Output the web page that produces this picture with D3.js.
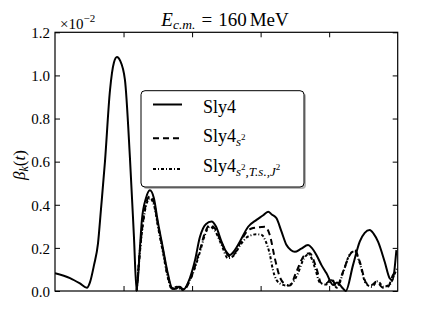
<!DOCTYPE html>
<html>
<head>
    <title>beta_k(t) D3.js</title>
    <script src="https://d3js.org/d3.v7.min.js"></script>
    <style>
        body { margin: 0; background: #fff; }
        svg text { fill: #000; }
        .axis path, .axis line { stroke: #000; }
    </style>
</head>
<body>
<div id="chart-container"></div>

<script>
    // time axis (arbitrary units, no tick labels shown) and beta_k values (x 10^-2)
    const tSly4 = [0, 0.219, 0.364, 0.466, 0.51, 0.569, 0.627, 0.671, 0.729, 0.802, 0.86, 0.904, 0.948, 1.02,
        1.093, 1.152, 1.191, 1.239, 1.268, 1.327, 1.385, 1.443, 1.501, 1.574, 1.647, 1.706, 1.764, 1.808,
        1.866, 1.968, 2.041, 2.114, 2.201, 2.284, 2.347, 2.43, 2.493, 2.551, 2.624, 2.697, 2.818, 2.94,
        3.032, 3.11, 3.163, 3.232, 3.305, 3.378, 3.44, 3.499, 3.586, 3.692, 3.746, 3.814, 3.888, 3.961,
        4.057, 4.115, 4.179, 4.242, 4.348, 4.446, 4.519, 4.592, 4.65, 4.713, 4.81, 4.883, 4.92, 4.981];
    const ySly4 = [0.083, 0.06, 0.035, 0.015, 0.04, 0.12, 0.22, 0.38, 0.6, 0.93, 1.06, 1.085, 1.07, 0.98,
        0.62, 0.25, 0.0, 0.2, 0.33, 0.43, 0.467, 0.43, 0.32, 0.2, 0.08, 0.015, 0.01, 0.02,
        0.005, 0.06, 0.14, 0.25, 0.31, 0.322, 0.3, 0.229, 0.185, 0.167, 0.19, 0.229, 0.298, 0.33,
        0.35, 0.368, 0.355, 0.337, 0.275, 0.213, 0.19, 0.182, 0.195, 0.213, 0.2, 0.167, 0.12, 0.082,
        0.028, 0.04, 0.02, 0.0, 0.12, 0.229, 0.27, 0.283, 0.265, 0.229, 0.136, 0.059, 0.05, 0.19];

    const tS2 = [1.191, 1.239, 1.283, 1.341, 1.385, 1.443, 1.501, 1.574, 1.647, 1.706, 1.764, 1.822, 1.88,
        1.968, 2.114, 2.187, 2.259, 2.332, 2.434, 2.551, 2.624, 2.697, 2.784, 2.867, 2.959, 3.061, 3.134,
        3.207, 3.28, 3.367, 3.426, 3.523, 3.644, 3.717, 3.814, 3.888, 3.961, 4.034, 4.107, 4.203, 4.3,
        4.373, 4.446, 4.544, 4.617, 4.69, 4.786, 4.859, 4.931, 4.996];
    const yS2 = [0.0, 0.19, 0.32, 0.42, 0.44, 0.41, 0.31, 0.19, 0.07, 0.01, 0.01, 0.02, 0.005,
        0.05, 0.19, 0.27, 0.306, 0.29, 0.22, 0.16, 0.175, 0.22, 0.27, 0.29, 0.295, 0.298, 0.26,
        0.152, 0.065, 0.03, 0.025, 0.09, 0.167, 0.175, 0.105, 0.036, 0.036, 0.059, 0.02, 0.09, 0.167,
        0.19, 0.136, 0.036, 0.028, 0.043, 0.015, 0.02, 0.074, 0.1];

    const tTSJ = [1.191, 1.239, 1.283, 1.341, 1.385, 1.443, 1.501, 1.574, 1.647, 1.706, 1.778, 1.851,
        1.968, 2.114, 2.187, 2.259, 2.332, 2.434, 2.522, 2.609, 2.697, 2.813, 2.94, 3.017, 3.076, 3.134,
        3.178, 3.232, 3.305, 3.382, 3.455, 3.542, 3.63, 3.703, 3.79, 3.863, 3.95, 4.038, 4.111, 4.213,
        4.3, 4.373, 4.446, 4.534, 4.621, 4.708, 4.796, 4.883, 4.956, 4.996];
    const yTSJ = [0.0, 0.18, 0.31, 0.41, 0.43, 0.4, 0.3, 0.18, 0.06, 0.01, 0.02, 0.005,
        0.05, 0.18, 0.26, 0.298, 0.28, 0.21, 0.152, 0.165, 0.21, 0.252, 0.263, 0.26, 0.229, 0.17,
        0.1, 0.051, 0.031, 0.025, 0.035, 0.08, 0.15, 0.17, 0.11, 0.04, 0.03, 0.05, 0.015, 0.095,
        0.17, 0.185, 0.13, 0.035, 0.02, 0.045, 0.02, 0.03, 0.08, 0.11];

    const yTicks = [0.0, 0.2, 0.4, 0.6, 0.8, 1.0, 1.2];
    const xTicks = [1, 2, 3, 4];

    const serif = "'Liberation Serif', 'DejaVu Serif', serif";
    const width = 442;
    const height = 324;
    const margin = { top: 32.3, right: 44.3, bottom: 33, left: 55 };
    const chartWidth = width - margin.left - margin.right;
    const chartHeight = height - margin.top - margin.bottom;

    const svg = d3.select('#chart-container')
        .append('svg')
        .attr('width', width)
        .attr('height', height)
        .attr('font-family', serif);

    const chart = svg.append('g')
        .attr('transform', `translate(${margin.left},${margin.top})`);

    const xScale = d3.scaleLinear().domain([0, 5]).range([0, chartWidth]);
    const yScale = d3.scaleLinear().domain([0, 1.2]).range([chartHeight, 0]);

    // curves
    const series = [
        { t: tSly4, y: ySly4, dash: null },
        { t: tS2, y: yS2, dash: '6,4' },
        { t: tTSJ, y: yTSJ, dash: '3,2,1,2' }
    ];

    const line = d3.line()
        .x(d => xScale(d[0]))
        .y(d => yScale(d[1]))
        .curve(d3.curveMonotoneX);

    chart.append('defs').append('clipPath').attr('id', 'clip')
        .append('rect').attr('width', chartWidth).attr('height', chartHeight + 1);

    series.slice().reverse().forEach(s => {
        chart.append('path')
            .attr('clip-path', 'url(#clip)')
            .attr('d', line(s.t.map((t, i) => [t, s.y[i]])))
            .attr('fill', 'none')
            .attr('stroke', '#000')
            .attr('stroke-width', 2)
            .attr('stroke-dasharray', s.dash);
    });

    // axes, ticks pointing inward on all four sides
    const tickLen = 5;
    chart.append('g').attr('class', 'axis')
        .attr('transform', `translate(0,${chartHeight})`)
        .call(d3.axisBottom(xScale).tickValues(xTicks).tickSize(-tickLen).tickFormat(''));
    chart.append('g').attr('class', 'axis')
        .call(d3.axisTop(xScale).tickValues(xTicks).tickSize(-tickLen).tickFormat(''));
    const yAxis = chart.append('g').attr('class', 'axis')
        .call(d3.axisLeft(yScale).tickValues(yTicks).tickSize(-tickLen).tickPadding(5)
            .tickFormat(d3.format('.1f')));
    yAxis.attr('font-family', serif).attr('font-size', 15);
    yAxis.selectAll('text').attr('dy', '0.35em');
    chart.append('g').attr('class', 'axis')
        .attr('transform', `translate(${chartWidth},0)`)
        .call(d3.axisRight(yScale).tickValues(yTicks).tickSize(-tickLen).tickFormat(''));
    chart.selectAll('.axis .domain').remove();

    chart.append('rect')
        .attr('width', chartWidth).attr('height', chartHeight)
        .attr('fill', 'none').attr('stroke', '#000').attr('stroke-width', 1.2);

    // offset text
    const off = svg.append('text').attr('x', 60).attr('y', 28.5).attr('font-size', 15);
    off.append('tspan').text('×10');
    off.append('tspan').attr('dy', -7).attr('font-size', 11).text('−2');

    // title
    const title = svg.append('text').attr('x', 225).attr('y', 25.5)
        .attr('text-anchor', 'middle').attr('font-size', 19);
    title.append('tspan').attr('font-style', 'italic').text('E');
    title.append('tspan').attr('dy', 3).attr('font-style', 'italic').attr('font-size', 13.5).text('c.m.');
    title.append('tspan').attr('dy', -3).attr('dx', 6).text('=');
    title.append('tspan').attr('dx', 6).text('160');
    title.append('tspan').attr('dx', 3).text('MeV');

    // y label
    const yl = svg.append('text')
        .attr('transform', 'translate(25,165) rotate(-90)')
        .attr('text-anchor', 'middle').attr('font-size', 17);
    yl.append('tspan').attr('font-style', 'italic').text('β');
    yl.append('tspan').attr('dy', 3).attr('font-style', 'italic').attr('font-size', 12).text('k');
    yl.append('tspan').attr('dy', -3).text('(');
    yl.append('tspan').attr('font-style', 'italic').text('t');
    yl.append('tspan').text(')');

    // legend
    const lg = svg.append('g');
    lg.append('rect').attr('x', 143).attr('y', 92.7).attr('width', 163).attr('height', 96.3)
        .attr('rx', 4).attr('fill', '#888').attr('opacity', 0.6);
    lg.append('rect').attr('x', 141).attr('y', 90.7).attr('width', 163).attr('height', 96.3)
        .attr('rx', 4).attr('fill', '#fff').attr('stroke', '#000').attr('stroke-width', 1);

    const legendRows = [
        { y: 104.5, base: 113.3, dash: null },
        { y: 138.3, base: 141.7, dash: '6,4' },
        { y: 169, base: 171.7, dash: '3,2,1,2' }
    ];
    legendRows.forEach((r, i) => {
        lg.append('line').attr('x1', 153).attr('x2', 182).attr('y1', r.y).attr('y2', r.y)
            .attr('stroke', '#000').attr('stroke-width', 2).attr('stroke-dasharray', r.dash);
        const tx = lg.append('text').attr('x', 203).attr('y', r.base).attr('font-size', 18);
        tx.append('tspan').text('Sly4');
        if (i >= 1) {
            tx.append('tspan').attr('dy', 4).attr('font-style', 'italic').attr('font-size', 13).text('s');
            tx.append('tspan').attr('dy', -6).attr('font-size', 9).text('2');
            if (i === 2) {
                tx.append('tspan').attr('dy', 6).attr('font-style', 'italic').attr('font-size', 13)
                    .text(',T.s.,J');
                tx.append('tspan').attr('dy', -6).attr('font-size', 9).text('2');
            }
        }
    });
</script>
</body>
</html>
